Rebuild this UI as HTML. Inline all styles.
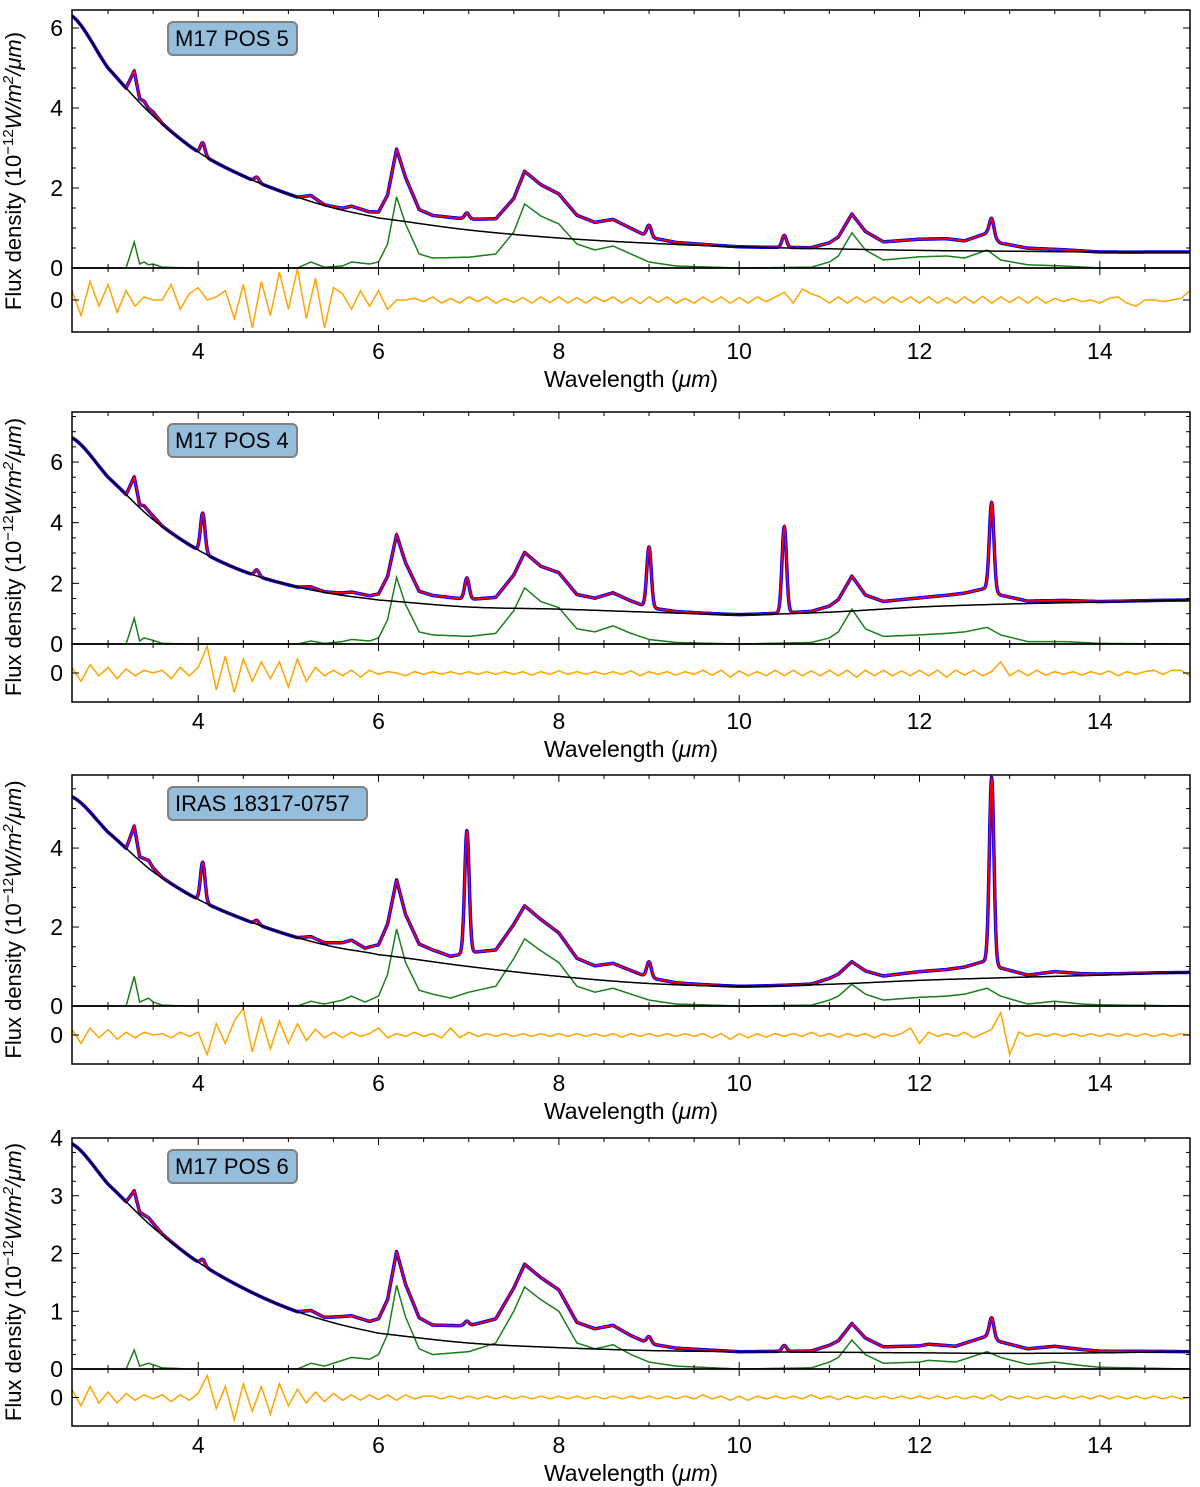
<!DOCTYPE html>
<html><head><meta charset="utf-8">
<style>
html,body{margin:0;padding:0;background:#fff;}
svg{display:block;font-family:"Liberation Sans","DejaVu Sans",sans-serif;}
</style></head>
<body>
<svg id="chart" width="1200" height="1487" viewBox="0 0 1200 1487" xmlns="http://www.w3.org/2000/svg"></svg>
<script>
// ---------- DATA ----------
const panelNames = ["M17 POS 5","M17 POS 4","IRAS 18317-0757","M17 POS 6"];
const contX = [2.6,3,3.5,4,4.5,5,5.5,6,7,8,9,10,11,12,13,14,15];
const contP1 = [6.3,5.0,3.8,2.9,2.3,1.85,1.5,1.25,0.95,0.75,0.62,0.53,0.48,0.44,0.42,0.40,0.40];
const contP2 = [6.8,5.5,4.1,3.1,2.4,1.95,1.65,1.45,1.22,1.15,1.05,0.97,1.05,1.22,1.32,1.38,1.45];
const contP3 = [5.3,4.4,3.4,2.7,2.2,1.8,1.5,1.3,1.0,0.75,0.57,0.5,0.55,0.65,0.72,0.78,0.85];
const contP4 = [3.9,3.2,2.45,1.85,1.4,1.05,0.8,0.62,0.45,0.37,0.32,0.3,0.29,0.28,0.27,0.28,0.3];

const pahP1 = [[2.6,0],[3.2,0],[3.29,0.65],[3.35,0.1],[3.4,0.15],[3.45,0.08],[3.5,0.1],[3.6,0.02],[3.9,0],[5.1,0],[5.25,0.15],[5.4,0.02],[5.6,0.05],[5.7,0.15],[5.9,0.1],[6.0,0.15],[6.1,0.6],[6.2,1.78],[6.3,1.1],[6.45,0.35],[6.6,0.25],[7.0,0.27],[7.3,0.35],[7.5,0.9],[7.62,1.6],[7.8,1.3],[8.0,1.1],[8.2,0.6],[8.4,0.45],[8.6,0.55],[8.8,0.35],[9.0,0.15],[9.3,0.05],[10,0],[10.8,0.02],[11.0,0.15],[11.1,0.3],[11.25,0.88],[11.4,0.45],[11.6,0.2],[12,0.28],[12.3,0.3],[12.5,0.25],[12.75,0.45],[12.9,0.2],[13.2,0.08],[13.6,0.05],[14,0],[15,0]];
const pahP2 = [[2.6,0],[3.2,0],[3.29,0.85],[3.35,0.1],[3.4,0.2],[3.5,0.12],[3.6,0.02],[3.9,0],[5.1,0],[5.25,0.1],[5.4,0.02],[5.6,0.08],[5.7,0.15],[5.9,0.1],[6.0,0.2],[6.1,0.8],[6.2,2.2],[6.3,1.3],[6.45,0.4],[6.6,0.3],[7.0,0.25],[7.3,0.35],[7.5,1.1],[7.62,1.85],[7.8,1.4],[8.0,1.2],[8.2,0.5],[8.4,0.4],[8.6,0.6],[8.8,0.35],[9.0,0.15],[9.3,0.05],[10,0],[10.8,0.05],[11.0,0.2],[11.1,0.4],[11.25,1.15],[11.4,0.5],[11.6,0.25],[12,0.3],[12.3,0.35],[12.5,0.4],[12.75,0.55],[12.9,0.3],[13.2,0.08],[13.6,0.08],[14,0.02],[15,0]];
const pahP3 = [[2.6,0],[3.2,0],[3.29,0.75],[3.35,0.1],[3.45,0.2],[3.5,0.1],[3.6,0.02],[3.9,0],[5.1,0],[5.25,0.12],[5.4,0.05],[5.6,0.15],[5.7,0.25],[5.85,0.1],[6.0,0.25],[6.1,0.8],[6.2,1.95],[6.3,1.1],[6.45,0.4],[6.6,0.3],[6.8,0.2],[7.0,0.35],[7.3,0.5],[7.5,1.2],[7.62,1.7],[7.8,1.4],[8.0,1.1],[8.2,0.5],[8.4,0.35],[8.6,0.45],[8.8,0.3],[9.0,0.15],[9.3,0.05],[10,0],[10.8,0.02],[11.0,0.15],[11.1,0.25],[11.25,0.55],[11.4,0.3],[11.6,0.15],[12,0.22],[12.3,0.25],[12.5,0.3],[12.75,0.45],[12.9,0.25],[13.2,0.05],[13.5,0.12],[13.8,0.05],[14,0.03],[15,0]];
const pahP4 = [[2.6,0],[3.2,0],[3.29,0.33],[3.35,0.05],[3.45,0.1],[3.6,0.02],[3.9,0],[5.1,0],[5.25,0.1],[5.4,0.05],[5.6,0.15],[5.7,0.2],[5.9,0.17],[6.0,0.25],[6.1,0.6],[6.2,1.45],[6.3,0.9],[6.45,0.35],[6.6,0.25],[7.0,0.3],[7.3,0.45],[7.5,1.0],[7.62,1.42],[7.8,1.2],[8.0,1.0],[8.2,0.45],[8.4,0.35],[8.6,0.42],[8.8,0.25],[9.0,0.12],[9.3,0.05],[10,0],[10.8,0.02],[11.0,0.12],[11.1,0.2],[11.25,0.5],[11.4,0.25],[11.6,0.1],[12,0.12],[12.1,0.15],[12.4,0.12],[12.75,0.3],[12.9,0.2],[13.2,0.08],[13.5,0.12],[13.8,0.06],[14,0.03],[15,0]];

const lineXP1 = [4.05,4.65,6.98,9.0,10.5,12.8];
const lineHP1 = [0.3,0.12,0.15,0.3,0.3,0.45];
const lineXP2 = [4.05,4.65,6.98,9.0,10.5,12.8];
const lineHP2 = [1.3,0.2,0.7,2.0,2.85,2.9];
const lineXP3 = [4.05,4.65,6.98,9.0,12.8];
const lineHP3 = [1.0,0.1,3.1,0.4,4.7];
const lineXP4 = [4.05,6.98,9.0,10.5,12.8];
const lineHP4 = [0.1,0.08,0.12,0.1,0.35];

// residuals, 2.6 .. 15.0 step 0.1 (125 values)
const residP1 = [0.3,-0.5,0.6,-0.2,0.5,-0.4,0.3,-0.2,0.1,0.0, 0.0,0.5,-0.3,0.2,0.4,0.0,0.1,0.3,-0.6,0.5, -0.9,0.6,-0.5,0.9,-0.3,1.0,-0.6,0.7,-0.9,0.4, 0.2,-0.3,0.3,-0.2,0.3,-0.3,0.0,0.0,0.05,-0.05, 0.1,-0.1,0.05,-0.1,0.1,-0.05,0.1,-0.1,0.05,-0.08, 0.08,-0.1,0.1,-0.08,0.1,-0.1,0.08,-0.1,0.1,-0.05, 0.1,-0.1,0.08,-0.12,0.1,-0.08,0.1,-0.1,0.05,-0.1, 0.1,-0.08,0.1,-0.1,0.08,-0.1,0.1,-0.05,0.1,0.25, -0.1,0.35,0.2,0.1,-0.1,0.1,-0.1,0.1,-0.08,0.1, -0.1,0.1,-0.08,0.1,-0.1,0.1,-0.1,0.08,-0.1,0.1, -0.1,0.12,-0.1,0.1,-0.08,0.1,-0.1,0.1,-0.1,0.05, -0.05,0.05,-0.05,0.0,-0.1,0.05,0.1,-0.1,-0.2,0.0, 0.0,-0.05,0.0,0.05,0.3];
const residP2 = [0.2,-0.3,0.3,-0.1,0.2,-0.2,0.15,-0.1,0.1,0.0, 0.1,-0.2,0.2,-0.1,0.2,0.95,-0.6,0.6,-0.7,0.5, -0.3,0.4,-0.2,0.4,-0.5,0.5,-0.3,0.2,-0.1,0.1, -0.1,0.1,-0.15,0.1,-0.05,0.05,0.0,-0.1,0.05,-0.05, 0.05,-0.05,0.05,-0.05,0.05,-0.05,0.05,-0.05,0.05,-0.05, 0.05,-0.08,0.05,-0.05,0.08,-0.05,0.05,-0.05,0.05,-0.05, 0.05,-0.05,0.08,-0.1,0.05,-0.05,0.05,-0.08,0.05,-0.05, 0.1,-0.08,0.1,-0.15,0.08,-0.1,0.05,-0.1,0.1,-0.1, 0.1,-0.1,0.08,-0.1,0.1,-0.1,0.1,-0.15,0.1,-0.1, 0.1,-0.1,0.08,-0.1,0.1,-0.1,0.1,-0.15,0.1,-0.08, 0.1,-0.1,0.05,0.4,-0.1,0.1,-0.1,0.1,-0.08,0.05, -0.05,0.05,-0.08,0.05,-0.05,0.08,-0.1,0.05,-0.05,0.05, 0.1,-0.05,0.1,0.1,-0.1];
const residP3 = [0.2,-0.3,0.25,-0.1,0.2,-0.15,0.1,-0.1,0.1,0.0, 0.05,-0.1,0.1,-0.05,0.1,-0.7,0.4,-0.3,0.5,0.95, -0.6,0.6,-0.5,0.5,-0.3,0.4,-0.2,0.2,-0.1,0.1, -0.1,0.1,-0.05,0.05,0.25,-0.1,0.05,-0.05,0.1,-0.05, 0.05,-0.1,0.25,-0.1,0.1,-0.05,0.05,-0.05,0.05,-0.05, 0.05,-0.05,0.05,-0.05,0.05,-0.05,0.05,-0.05,0.05,-0.05, 0.05,-0.08,0.05,-0.05,0.05,-0.05,0.05,-0.05,0.05,-0.05, 0.05,-0.1,0.05,-0.15,0.05,-0.1,0.05,-0.08,0.05,-0.05, 0.05,-0.05,0.1,-0.05,0.05,-0.08,0.05,-0.05,0.05,-0.1, 0.05,-0.05,0.05,0.25,-0.3,0.1,-0.05,0.05,-0.05,0.1, -0.1,0.05,0.2,0.8,-0.7,0.1,-0.05,0.05,-0.05,0.05, -0.05,0.05,-0.05,0.05,-0.05,0.05,-0.05,0.05,-0.05,0.05, -0.05,0.05,-0.05,0.05,0.0];
const residP4 = [0.3,-0.3,0.4,-0.2,0.2,-0.2,0.15,-0.1,0.1,-0.05, 0.1,-0.15,0.1,-0.1,0.15,0.8,-0.4,0.4,-0.8,0.5, -0.5,0.4,-0.6,0.5,-0.3,0.3,-0.2,0.2,-0.15,0.15, -0.1,0.1,-0.1,0.1,-0.08,0.1,-0.1,0.1,-0.05,0.05, 0.05,-0.05,0.05,-0.05,0.05,-0.05,0.05,-0.05,0.05,-0.05, 0.05,-0.05,0.05,-0.05,0.05,-0.05,0.05,-0.05,0.05,-0.05, 0.05,-0.05,0.05,-0.05,0.05,-0.05,0.05,-0.05,0.05,-0.05, 0.1,-0.05,0.05,-0.1,0.05,-0.1,0.05,-0.05,0.05,-0.05, 0.05,-0.05,0.1,-0.05,0.05,-0.08,0.05,-0.05,0.05,-0.05, 0.05,-0.05,0.05,-0.05,0.05,-0.05,0.05,-0.05,0.05,-0.05, 0.05,-0.05,0.1,-0.1,0.05,-0.05,0.05,-0.05,0.05,-0.05, 0.05,-0.05,0.05,-0.05,0.08,-0.05,0.05,-0.05,0.05,-0.05, 0.05,-0.05,0.05,-0.05,0.0];

const xTicks = [4,6,8,10,12,14];
const yTickP1 = [0,2,4,6], yTickP2 = [0,2,4,6], yTickP3 = [0,2,4], yTickP4 = [0,1,2,3,4];

// ---------- LAYOUT ----------
const svg = document.getElementById('chart');
const NS = 'http://www.w3.org/2000/svg';
const X0 = 72, X1 = 1190, XMIN = 2.6, XMAX = 15;
const xs = v => X0 + (v - XMIN) / (XMAX - XMIN) * (X1 - X0);
const layout = [
  {top:10, bot:268, rbot:332, ymax:6.45, minor:0.5, cont:contP1, pah:pahP1, lx:lineXP1, lh:lineHP1, res:residP1, yt:yTickP1, bw:129},
  {top:412, bot:644, rbot:702, ymax:7.65, minor:0.5, cont:contP2, pah:pahP2, lx:lineXP2, lh:lineHP2, res:residP2, yt:yTickP2, bw:129},
  {top:775, bot:1006, rbot:1064, ymax:5.85, minor:0.5, cont:contP3, pah:pahP3, lx:lineXP3, lh:lineHP3, res:residP3, yt:yTickP3, bw:199},
  {top:1138, bot:1369, rbot:1426, ymax:4.0, minor:0.25, cont:contP4, pah:pahP4, lx:lineXP4, lh:lineHP4, res:residP4, yt:yTickP4, bw:129}
];
function el(tag, attrs, parent){ const e=document.createElementNS(NS,tag); for(const k in attrs) e.setAttribute(k,attrs[k]); (parent||svg).appendChild(e); return e; }
function interp(xa, ya, x){
  if (x<=xa[0]) return ya[0];
  for (let i=1;i<xa.length;i++){ if (x<=xa[i]){ const t=(x-xa[i-1])/(xa[i]-xa[i-1]); return ya[i-1]+t*(ya[i]-ya[i-1]); } }
  return ya[ya.length-1];
}
function smoothCont(arr, x){
  let i=0; while(i<contX.length-2 && x>contX[i+1]) i++;
  const x1=contX[i], x2=contX[i+1], t=(x-x1)/(x2-x1);
  const p0=arr[Math.max(i-1,0)], p1=arr[i], p2=arr[i+1], p3=arr[Math.min(i+2,arr.length-1)];
  const t2=t*t, t3=t2*t;
  return 0.5*((2*p1)+(-p0+p2)*t+(2*p0-5*p1+4*p2-p3)*t2+(-p0+3*p1-3*p2+p3)*t3);
}

layout.forEach((P, pi) => {
  const g = el('g', {});
  
  
  const ys = v => P.bot - v / P.ymax * (P.bot - P.top);
  const rzero = (P.bot + P.rbot) / 2, rhalf = (P.rbot - P.bot) / 2 - 1;
  const rs = v => rzero - v * rhalf;
  const clipId = 'clip'+pi;
  const cp = el('clipPath', {id:clipId}, g); el('rect',{x:X0,y:P.top,width:X1-X0,height:P.rbot-P.top},cp);
  const pahX = P.pah.map(p=>p[0]), pahY = P.pah.map(p=>p[1]);
  let dC='', dG='', dT='';
  for (let x=XMIN; x<=XMAX+1e-9; x+=0.005){
    const c = smoothCont(P.cont, x), gv = interp(pahX, pahY, x);
    let ln = 0; P.lx.forEach((lx,k)=>{ ln += P.lh[k]*Math.exp(-0.5*Math.pow((x-lx)/0.025,2)); });
    const px = xs(x).toFixed(1);
    dC += (dC?'L':'M')+px+','+ys(c).toFixed(1);
    dG += (dG?'L':'M')+px+','+ys(gv).toFixed(1);
    dT += (dT?'L':'M')+px+','+ys(c+gv+ln).toFixed(1);
  }
  const plot = el('g', {'clip-path':'url(#'+clipId+')'}, g);
  const gl = el('path', {d:dG, fill:'none', stroke:'#1a7f1a', 'stroke-width':1.5}, plot);
   
  const bl = el('path', {d:dT, fill:'none', stroke:'#0000ff', 'stroke-width':3.5, 'stroke-linejoin':'round'}, plot);
   
  const rl = el('path', {d:dT, fill:'none', stroke:'#ff0000', 'stroke-width':1.6}, plot);
   
  const kl = el('path', {d:dC, fill:'none', stroke:'#000', 'stroke-width':1.5}, plot);
   
  let dR=''; P.res.forEach((v,k)=>{ dR += (k?'L':'M')+xs(2.6+0.1*k).toFixed(1)+','+rs(v).toFixed(1); });
  const ol = el('path', {d:dR, fill:'none', stroke:'#ffa500', 'stroke-width':1.5}, plot);
   
  el('rect', {x:X0, y:P.top, width:X1-X0, height:P.bot-P.top, fill:'none', stroke:'#000', 'stroke-width':1.5}, g);
  el('rect', {x:X0, y:P.bot, width:X1-X0, height:P.rbot-P.bot, fill:'none', stroke:'#000', 'stroke-width':1.5}, g);
  for (let v=3; v<=15.001; v+=0.5){
    const major = Math.abs(v/2-Math.round(v/2))<1e-6, L = major?7:4, px=xs(v);
    [[P.top,1],[P.bot,-1],[P.bot,1],[P.rbot,-1]].forEach(([yy,dir])=> el('line',{x1:px,x2:px,y1:yy,y2:yy+dir*L,stroke:'#000','stroke-width':1},g));
  }
  xTicks.forEach(v=>{ const t=el('text',{x:xs(v),y:P.rbot+27,'text-anchor':'middle','font-size':23,fill:'#000'},g); t.textContent=v;
      });
  for (let v=0; v<=P.ymax+1e-9; v+=P.minor){
    const major = P.yt.some(t=>Math.abs(t-v)<1e-6), L=major?7:4, py=ys(v);
    el('line',{x1:X0,x2:X0+L,y1:py,y2:py,stroke:'#000','stroke-width':1},g);
    el('line',{x1:X1,x2:X1-L,y1:py,y2:py,stroke:'#000','stroke-width':1},g);
  }
  P.yt.forEach(v=>{ const t=el('text',{x:X0-9,y:ys(v)+8,'text-anchor':'end','font-size':23,fill:'#000'},g); t.textContent=v;
      });
  el('line',{x1:X0,x2:X0+7,y1:rzero,y2:rzero,stroke:'#000','stroke-width':1},g);
  el('line',{x1:X1,x2:X1-7,y1:rzero,y2:rzero,stroke:'#000','stroke-width':1},g);
  const r0=el('text',{x:X0-9,y:rzero+8,'text-anchor':'end','font-size':23,fill:'#000'},g); r0.textContent='0';
   
  const xt = el('text',{x:(X0+X1)/2,y:P.rbot+55,'text-anchor':'middle','font-size':23,fill:'#000'},g);
   
  xt.innerHTML = 'Wavelength (<tspan font-style="italic">μm</tspan>)';
  const cy = (P.top + P.rbot)/2;
  const yt = el('text',{x:0,y:0,transform:'translate(21,'+cy+') rotate(-90)','text-anchor':'middle','font-size':22,fill:'#000'},g);
   
  yt.innerHTML = 'Flux density (10<tspan dy="-8" font-size="15">−12</tspan><tspan dy="8" font-style="italic">W/m</tspan><tspan dy="-8" font-size="15" font-style="italic">2</tspan><tspan dy="8" font-style="italic">/μm</tspan>)';
  const bx = el('rect',{x:168,y:P.top+12,width:P.bw,height:33,rx:5,fill:'#94bedc',stroke:'#808080','stroke-width':2},g);
   
  const lt = el('text',{x:175,y:P.top+36,'font-size':22,fill:'#000'},g); lt.textContent = panelNames[pi];
   
});
</script>
</body></html>
